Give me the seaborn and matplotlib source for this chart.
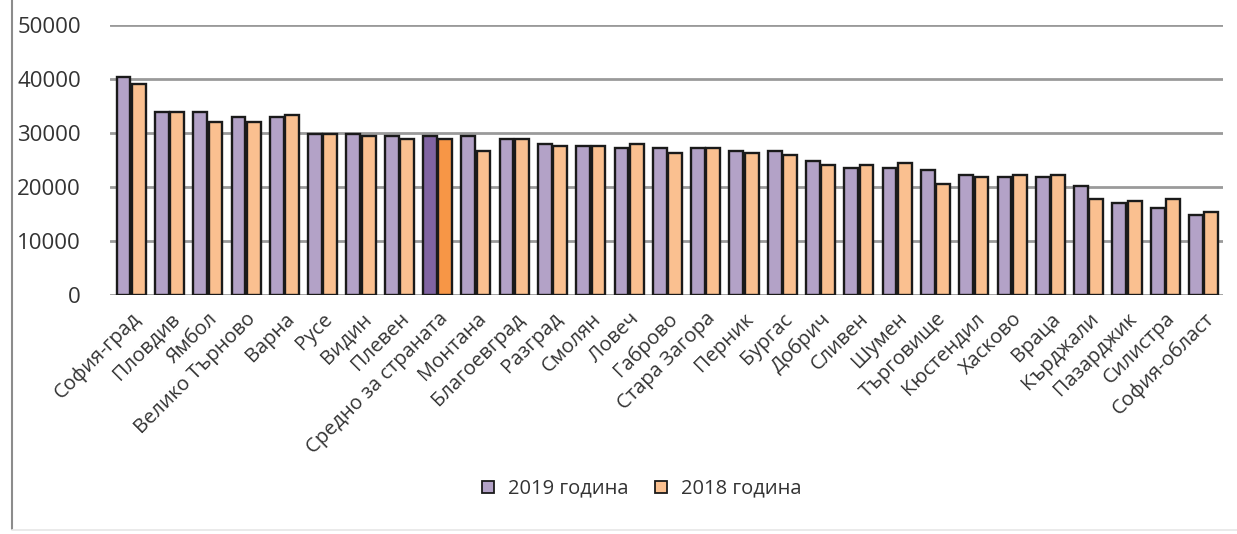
import pandas as pd
import matplotlib.pyplot as plt
import matplotlib.lines as mlines
import seaborn as sns

regions = ['София-град', 'Пловдив', 'Ямбол', 'Велико Търново', 'Варна', 'Русе', 'Видин',
           'Плевен', 'Средно за страната', 'Монтана', 'Благоевград', 'Разград', 'Смолян',
           'Ловеч', 'Габрово', 'Стара Загора', 'Перник', 'Бургас', 'Добрич', 'Сливен',
           'Шумен', 'Търговище', 'Кюстендил', 'Хасково', 'Враца', 'Кърджали', 'Пазарджик',
           'Силистра', 'София-област']
values_2019 = [40300, 33800, 33800, 33000, 33000, 29800, 29800, 29400, 29400, 29400,
               28900, 28000, 27600, 27200, 27200, 27200, 26700, 26700, 24900, 23600,
               23600, 23100, 22300, 21900, 21900, 20100, 17000, 16100, 14800]
values_2018 = [39000, 33800, 32000, 32000, 33400, 29800, 29400, 28900, 28900, 26700,
               28900, 27600, 27600, 28000, 26300, 27200, 26300, 25900, 24100, 24100,
               24500, 20500, 21800, 22300, 22300, 17800, 17400, 17800, 15300]
years = ['2019 година', '2018 година']
highlight = 'Средно за страната'

df = pd.DataFrame({
    'region': regions * 2,
    'value': values_2019 + values_2018,
    'year': [years[0]] * len(regions) + [years[1]] * len(regions),
})

sns.set_style('white')
plt.rcParams['font.family'] = ['Open Sans', 'DejaVu Sans']

fig = plt.figure(figsize=(12.37, 5.34), dpi=100)
ax = fig.add_axes([0.089, 0.4476, 0.8995, 0.5056])

colors = {years[0]: '#B3A2C7', years[1]: '#FAC090'}
dark = {years[0]: '#8064A2', years[1]: '#F79646'}

sns.barplot(data=df, x='region', y='value', hue='year', palette=colors,
            saturation=1, width=0.8, gap=0.1, edgecolor='#1a1a1a', linewidth=1.7,
            legend=False, ax=ax)

# darker bars for the national average
idx = regions.index(highlight)
for cont, yr in zip(ax.containers, years):
    cont.patches[idx].set_facecolor(dark[yr])

ax.set_ylim(0, 50000)
ax.set_yticks(range(0, 50001, 10000))
ax.yaxis.grid(True, color='#9a9a9a', linewidth=2)
ax.set_axisbelow(True)
for s in ax.spines.values():
    s.set_visible(False)
ax.set_xlabel('')
ax.set_ylabel('')
ax.tick_params(axis='y', labelsize=16, labelcolor='#333333', length=0, pad=21)
ax.tick_params(axis='x', labelsize=14.5, labelcolor='#333333', length=0, pad=10)
plt.setp(ax.get_xticklabels(), rotation=45, ha='right', rotation_mode='anchor')
ax.set_xlim(-0.55, len(regions) - 0.5)

handles = [mlines.Line2D([], [], marker='s', linestyle='none', markersize=9,
                         markerfacecolor=colors[y], markeredgecolor='#1a1a1a',
                         markeredgewidth=1.3, label=y) for y in years]
fig.legend(handles=handles, loc='center', bbox_to_anchor=(0.513, 0.085), ncol=2,
           frameon=False, fontsize=14.5, handletextpad=0.0, columnspacing=0.6,
           labelcolor='#333333')

# frame remnants of the original screenshot
fig.add_artist(mlines.Line2D([0.0095, 0.0095], [0.01, 1.0], color='#8c8c8c', linewidth=1.5))
fig.add_artist(mlines.Line2D([0.0095, 1.0], [0.008, 0.008], color='#e6e6e6', linewidth=1.2))

fig.savefig('out.png', dpi=100)
